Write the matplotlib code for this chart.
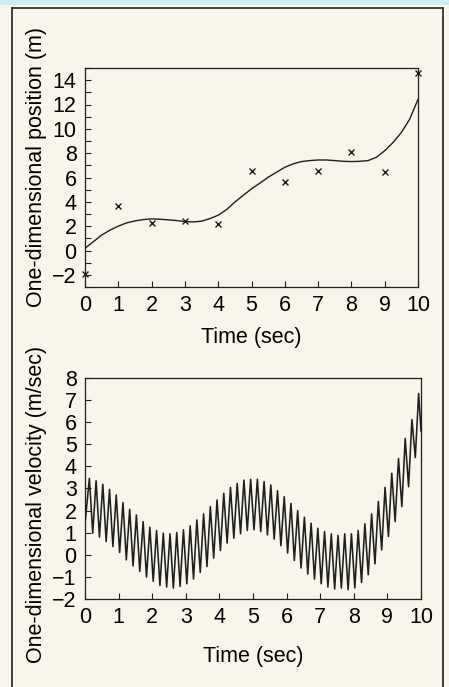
import numpy as np
import matplotlib
matplotlib.use("Agg")
import matplotlib.pyplot as plt
from matplotlib.ticker import MultipleLocator
from matplotlib.lines import Line2D
from matplotlib.patches import Rectangle

plt.rcParams["font.family"] = ["Liberation Sans", "DejaVu Sans"]

# --- top panel: estimated position (line) and noisy measurements (x) ---
pos_t = np.linspace(0, 10, 41)
pos_x = [0.18, 0.72, 1.27, 1.67, 2.00, 2.27, 2.43, 2.54, 2.60, 2.57, 2.52,
         2.46, 2.38, 2.35, 2.41, 2.62, 2.90, 3.36, 3.98, 4.53, 5.07, 5.53,
         6.02, 6.43, 6.84, 7.12, 7.31, 7.39, 7.44, 7.44, 7.39, 7.33, 7.31,
         7.33, 7.39, 7.66, 8.20, 8.88, 9.70, 10.79, 12.42]
meas_t = [0, 1, 2, 3, 4, 5, 6, 7, 8, 9, 10]
meas_x = [-1.95, 3.66, 2.27, 2.46, 2.16, 6.57, 5.62, 6.57, 8.12, 6.46, 14.57]

# --- bottom panel: velocity, read as the peak / trough of every 0.2 s cycle ---
vel_period = 0.2
vel_first_peak = 0.13
vel_start = 1.4      # value at t = 0
vel_end = 5.6        # value at t = 10
vel_peaks = [3.46, 3.35, 3.19, 2.96, 2.71, 2.36, 2.06, 1.80, 1.50, 1.25,
             1.10, 0.98, 0.95, 1.01, 1.13, 1.31, 1.58, 1.85, 2.18, 2.48,
             2.78, 3.05, 3.23, 3.38, 3.42, 3.42, 3.31, 3.16, 2.90, 2.63,
             2.33, 2.00, 1.70, 1.43, 1.20, 1.05, 0.95, 0.88, 0.95, 0.95,
             1.10, 1.40, 1.85, 2.41, 3.05, 3.69, 4.36, 5.27, 6.12, 7.30]
vel_troughs = [0.98, 0.80, 0.60, 0.37, 0.10, -0.23, -0.50, -0.75, -1.01,
               -1.20, -1.39, -1.46, -1.50, -1.43, -1.31, -1.10, -0.80, -0.53,
               -0.15, 0.19, 0.53, 0.75, 0.95, 1.10, 1.13, 1.05, 0.90, 0.71,
               0.41, 0.08, -0.26, -0.60, -0.87, -1.10, -1.31, -1.46, -1.55,
               -1.50, -1.58, -1.50, -1.25, -0.90, -0.41, 0.22, 0.83, 1.50,
               2.18, 3.08, 4.40]

# interleave peaks and troughs into one trace
n = len(vel_peaks)
peak_t = vel_first_peak + vel_period * np.arange(n)
trough_t = peak_t[:-1] + vel_period / 2
vel_t = np.empty(2 * n - 1)
vel_v = np.empty(2 * n - 1)
vel_t[0::2], vel_v[0::2] = peak_t, vel_peaks
vel_t[1::2], vel_v[1::2] = trough_t, vel_troughs
vel_t = np.concatenate([[0.0], vel_t, [10.0]])
vel_v = np.concatenate([[vel_start], vel_v, [vel_end]])

W, H = 449, 687
BG = "#f8f6ea"
INK = "#1e1e1e"
FS = 15.5

fig = plt.figure(figsize=(W / 100, H / 100), dpi=100, facecolor=BG)

# scan decorations: blue strip on top and the box frame
fig.patches.append(Rectangle((0, 1 - 5 / H), 1, 5 / H, transform=fig.transFigure,
                             facecolor="#c9eef6", edgecolor="none"))
for xs, ys in [([12, 12], [0, H - 8]), ([12, 443], [H - 8, H - 8]),
               ([443, 443], [H - 8, 0])]:
    fig.lines.append(Line2D([x / W for x in xs], [y / H for y in ys],
                            transform=fig.transFigure, color="#333333", lw=1.3))


def px_axes(left, top, right, bottom):
    return fig.add_axes([left / W, 1 - bottom / H, (right - left) / W,
                         (bottom - top) / H])


def style(ax):
    ax.set_facecolor(BG)
    for s in ax.spines.values():
        s.set_color(INK)
        s.set_linewidth(0.9)
    ax.tick_params(which="both", direction="in", length=4, width=0.8,
                   color=INK, labelsize=FS, pad=6)
    ax.set_xlim(0, 10)
    ax.xaxis.set_major_locator(MultipleLocator(1))


ax1 = px_axes(85, 68, 418, 287)
style(ax1)
ax1.plot(pos_t, pos_x, color=INK, lw=1.0)
ax1.plot(meas_t, meas_x, linestyle="none", marker="x", ms=4.5, mew=1.0,
         color=INK, clip_on=False)
ax1.set_ylim(-3, 15)
ax1.yaxis.set_major_locator(MultipleLocator(2))
ax1.yaxis.set_minor_locator(MultipleLocator(1))
ax1.set_xlabel("Time (sec)", fontsize=FS, labelpad=8)
ax1.set_ylabel("One-dimensional position (m)", fontsize=FS)
ax1.yaxis.set_label_coords(-0.113, 0.55)

ax2 = px_axes(85, 378, 421, 599)
style(ax2)
ax2.plot(vel_t, vel_v, color=INK, lw=1.15)
ax2.set_ylim(-2, 8)
ax2.yaxis.set_major_locator(MultipleLocator(1))
ax2.set_xlabel("Time (sec)", fontsize=FS, labelpad=13)
ax2.set_ylabel("One-dimensional velocity (m/sec)", fontsize=FS)
ax2.yaxis.set_label_coords(-0.113, 0.43)

fig.savefig("out.png", dpi=100, facecolor=BG)
